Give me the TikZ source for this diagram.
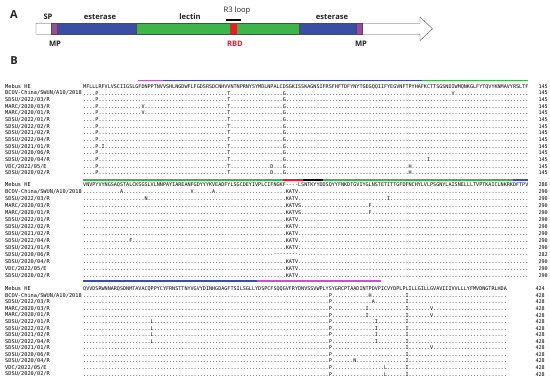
\documentclass[tikz,border=0pt]{standalone}
\usepackage{fontspec}
\setmainfont{Open Sans}
\setmonofont{DejaVu Sans Mono}
\usepackage{xcolor}
\usetikzlibrary{positioning}

\ExplSyntaxOn
\cs_new:Npn \dts #1 {\prg_replicate:nn {#1} {.}}
\ExplSyntaxOff

\definecolor{hepurple}{HTML}{9C4AA4}
\definecolor{heblue}{HTML}{3A4EA6}
\definecolor{hegreen}{HTML}{3CB54A}
\definecolor{hered}{HTML}{EC1C24}
\definecolor{hemagenta}{HTML}{C256C2}
\definecolor{txt}{HTML}{222222}

\begin{document}
\begin{tikzpicture}[x=1pt, y=-1pt,
    panel/.style={font=\fontsize{11}{12}\selectfont\bfseries, text=txt, inner sep=0pt},
    domlbl/.style={font=\fontsize{7.6}{8}\selectfont\bfseries, text=txt, inner sep=0pt},
    seq/.style={font=\ttfamily\fontsize{5.1}{6}\selectfont, text=black, inner sep=0pt, anchor=west},
    strain/.style={seq, font=\ttfamily\fontsize{5.3}{6}\selectfont},
    num/.style={seq, anchor=east},
    seg/.style={draw=black!70, line width=0.4pt},
    bar/.style={line width=1.5pt}
]
\useasboundingbox (0,0) rectangle (550,379);

% panel A: gene map
\node[panel] (pa) at (14,15) {A};
\draw[seg, fill=white] (36,23.3) -- (420,23.3) -- (420,17) -- (432.5,28.8)
    -- (420,40.6) -- (420,34.3) -- (36,34.3) -- cycle;
\foreach \a/\b/\c in {51/57/hepurple, 57/136/heblue, 136/299/hegreen,
                      299/356/heblue, 356/362/hepurple}
    \draw[seg, fill=\c] (\a,23.3) rectangle (\b,34.3);
\fill[hered] (230,23.5) rectangle (237,34.1);

\node[domlbl] (sp) at (48,17) {SP};
\node[domlbl] (est1) at (100,17) {esterase};
\node[domlbl] (lec) at (190,17) {lectin};
\node[domlbl] (est2) at (332,17) {esterase};
\node[domlbl] (mp1) at (55,43.5) {MP};
\node[domlbl, text=hered] (rbd) at (235,43.5) {RBD};
\node[domlbl] (mp2) at (361,43.5) {MP};
\node[domlbl, font=\fontsize{7.6}{8}\selectfont] (r3) at (237,10.5) {R3 loop};
\coordinate (r3a) at (226,20);
\coordinate (r3b) at (241,20);
\draw[line width=1.5pt] (r3a) -- (r3b);

% panel B: alignment
\node[panel] (pb) at (14,61) {B};

\foreach \yb/\dy [count=\b] in {86.5/6.65, 185/7.0, 289/6.55} {
  \foreach \nm [count=\i from 0] in {Mebus HE, BCOV-China/SWUN/A10/2018,
      SDSU/2022/03/R, MARC/2020/03/R, MARC/2020/01/R, SDSU/2022/01/R,
      SDSU/2022/02/R, SDSU/2021/02/R, SDSU/2022/04/R, SDSU/2021/01/R,
      SDSU/2020/06/R, SDSU/2020/04/R, VDC/2022/05/E, SDSU/2020/02/R}
    \node[strain] (nm\b-\i) at (5,\yb+\i*\dy) {\nm};
}

% block 1 (1-145)
\draw[bar, hemagenta] (138,80.5) -- (163,80.5);
\draw[bar, heblue] (163,80.5) -- (422,80.5);
\draw[bar, hegreen] (422,80.5) -- (528,80.5);
\foreach \sq [count=\i from 0] in {
    {MFLLLRFVLVSCIIGSLGFDNPPTNVVSHLNGDWFLFGDSRSDCNHVVNTNPRNYSYMDLNPALCDSGKISSKAGNSIFRSFHFTDFYNYTGEGQQIIFYEGVNFTPYHAFKCTTSGSNDIWMQNKGLFYTQVYKNMAVYRSLTF},
    {\dts{4}P\dts{42}T\dts{17}G\dts{54}V\dts{24}},
    {\dts{4}P\dts{42}T\dts{17}G\dts{79}},
    {\dts{4}P\dts{14}V\dts{27}T\dts{17}G\dts{79}},
    {\dts{4}P\dts{14}V\dts{27}T\dts{17}G\dts{79}},
    {\dts{4}P\dts{42}T\dts{17}G\dts{79}},
    {\dts{4}P\dts{42}T\dts{17}G\dts{79}},
    {\dts{4}P\dts{42}T\dts{17}G\dts{79}},
    {\dts{4}P\dts{42}T\dts{17}G\dts{79}},
    {\dts{4}P.I\dts{40}T\dts{17}G\dts{79}},
    {\dts{4}P\dts{42}T\dts{17}G\dts{79}},
    {\dts{4}P\dts{42}T\dts{17}G\dts{46}I\dts{32}},
    {\dts{4}P\dts{42}T\dts{13}D\dts{3}G\dts{40}H\dts{38}},
    {\dts{4}P\dts{42}T\dts{13}D\dts{3}G\dts{40}H\dts{38}}}
  \node[seq] (sq1-\i) at (83,86.5+\i*6.65) {\sq};
\foreach \i in {0,...,13}
  \node[num] (no1-\i) at (548,86.5+\i*6.65) {145};

% block 2 (146-290)
\draw[bar, hegreen] (83,180) -- (283,180);
\draw[bar, hered] (283,180) -- (303,180);
\draw[bar, black] (303,180) -- (323,180);
\draw[bar, hegreen] (323,180) -- (513,180);
\draw[bar, heblue] (513,180) -- (528,180);
\foreach \sq [count=\i from 0] in {
    {VNVPYVYNGSAQSTALCKSGSLVLNNPAYIAREANFGDYYYKVEADFYLSGCDEYIVPLCIFNGKF----LSNTKYYDDSQYYFNKDTGVIYGLNSTETITTGFDFNCHYLVLPSGNYLAISNELLLTVPTKAICLNKRKDFTPV},
    {\dts{12}A\dts{22}V\dts{6}A\dts{23}KATV\dts{75}},
    {\dts{20}N\dts{45}KATV\dts{29}I\dts{45}},
    {\dts{66}KATVS\dts{22}F\dts{51}},
    {\dts{66}KATVS\dts{22}F\dts{51}},
    {\dts{66}KATV\dts{75}},
    {\dts{66}KATV\dts{75}},
    {\dts{66}KATV\dts{75}},
    {\dts{15}F\dts{50}KATV\dts{75}},
    {\dts{66}KATV\dts{75}},
    {\dts{62}--------\dts{75}},
    {\dts{66}KATV\dts{75}},
    {\dts{66}KATV\dts{75}},
    {\dts{66}KATV\dts{75}}}
  \node[seq] (sq2-\i) at (83,185+\i*7.0) {\sq};
\foreach \n [count=\i from 0] in {286,290,290,290,290,290,290,290,290,290,282,290,290,290}
  \node[num] (no2-\i) at (548,185+\i*7.0) {\n};

% block 3 (291-428)
\draw[bar, heblue] (83,281) -- (257,281);
\draw[bar, hemagenta] (257,281) -- (381,281);
\foreach \sq [count=\i from 0] in {
    {QVVDSRWNNARQSDNMTAVACQPPYCYFRNSTTNYVGVYDINHGDAGFTSILSGLLYDSPCFSQQGVFRYDNVSSVWPLYSYGRCPTAADINTPDVPICVYDPLPLILLGILLGVAVIIIVVLLLYFMVDNGTRLHDA},
    {\dts{80}P\dts{12}H\dts{11}I\dts{32}},
    {\dts{80}P\dts{13}A\dts{10}I\dts{32}},
    {\dts{80}P\dts{11}I\dts{12}I\dts{7}V\dts{24}},
    {\dts{80}P\dts{11}I\dts{12}I\dts{7}V\dts{24}},
    {\dts{22}L\dts{57}P\dts{14}I\dts{9}I\dts{32}},
    {\dts{22}L\dts{57}P\dts{14}I\dts{9}I\dts{32}},
    {\dts{22}L\dts{57}P\dts{14}I\dts{9}I\dts{32}},
    {\dts{22}L\dts{57}P\dts{14}I\dts{9}I\dts{32}},
    {\dts{80}P\dts{24}I\dts{7}V\dts{24}},
    {\dts{80}P\dts{24}I\dts{32}},
    {\dts{80}P\dts{7}N\dts{16}I\dts{32}},
    {\dts{80}P\dts{17}L\dts{6}I\dts{32}},
    {\dts{80}P\dts{17}L\dts{6}I\dts{32}}}
  \node[seq] (sq3-\i) at (83,289+\i*6.55) {\sq};
\foreach \n [count=\i from 0] in {424,428,428,428,428,428,428,428,428,428,428,428,428,428}
  \node[num] (no3-\i) at (545,289+\i*6.55) {\n};
\end{tikzpicture}
\end{document}
